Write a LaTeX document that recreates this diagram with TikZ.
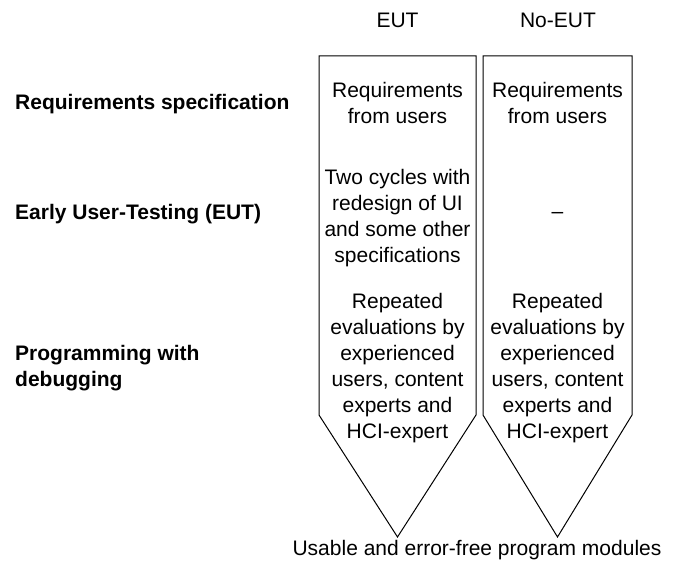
\documentclass[tikz,border=0pt]{standalone}
\usepackage{fontspec}
\setmainfont{Liberation Sans}
\begin{document}
\begin{tikzpicture}[x=1pt,y=-1pt,
  txt/.style={font=\fontsize{21}{26}\selectfont, align=center, inner sep=0pt},
  lbl/.style={font=\fontsize{21}{26}\selectfont\bfseries, align=left, inner sep=0pt, anchor=west},
  col/.style={draw=black, line width=1pt, line join=miter}]
\useasboundingbox (0,0) rectangle (681,564);
% columns
\draw[col] (319,56) -- (476,56) -- (476,415) -- (397.5,537) -- (319,415) -- cycle;
\draw[col] (483,56) -- (632,56) -- (632,415) -- (557.5,537) -- (483,415) -- cycle;
% headers
\node[txt] (h1) at (397.5,20) {EUT};
\node[txt] (h2) at (558,20) {No-EUT};
% row labels
\node[lbl] (l1) at (15,104) {Requirements specification};
\node[lbl] (l2) at (15,214) {Early User-Testing (EUT)};
\node[lbl] (l3) at (15,368) {Programming with\\debugging};
% column texts
\node[txt] (a1) at (397.5,103) {Requirements\\from users};
\node[txt] (b1) at (557.5,103) {Requirements\\from users};
\node[txt] (a2) at (397.5,218) {Two cycles with\\redesign of UI\\and some other\\specifications};
\node[txt] (b2) at (557.5,215) {–};
\node[txt] (a3) at (397.5,368) {Repeated\\evaluations by\\experienced\\users, content\\experts and\\HCI-expert};
\node[txt] (b3) at (557.5,368) {Repeated\\evaluations by\\experienced\\users, content\\experts and\\HCI-expert};
% result
\node[txt] (f) at (477,550) {Usable and error-free program modules};
\end{tikzpicture}
\end{document}
